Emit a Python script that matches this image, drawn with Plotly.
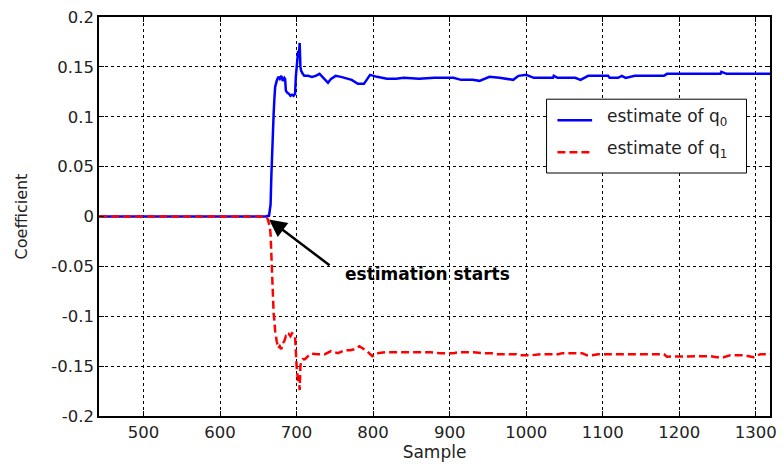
import plotly.graph_objects as go

# Coefficient estimates q0 and q1 versus sample index
q0_samples = [442, 660, 664, 666, 667, 668, 669, 670, 671, 672, 674, 676, 678, 680, 682, 684,
              685, 686, 688, 690, 692, 694, 696, 698, 699, 700, 701, 702, 703, 704, 705, 706,
              708, 710, 715, 720, 725, 730, 735, 741, 745, 751, 758, 766, 772, 780, 788, 796,
              805, 818, 830, 840, 860, 880, 905, 915, 930, 939, 952, 965, 983, 990, 1000, 1010,
              1020, 1035, 1036, 1041, 1055, 1064, 1071, 1081, 1095, 1107, 1109, 1120, 1125,
              1130, 1142, 1160, 1180, 1184, 1200, 1230, 1254, 1255, 1262, 1280, 1300, 1319]
q0_values = [0.0, 0.0, 0.001, 0.012, 0.040, 0.067, 0.080, 0.103, 0.118, 0.130, 0.136, 0.140,
             0.138, 0.141, 0.136, 0.139, 0.138, 0.126, 0.124, 0.123, 0.121, 0.122, 0.121, 0.123,
             0.140, 0.150, 0.158, 0.166, 0.160, 0.174, 0.150, 0.146, 0.143, 0.141, 0.141, 0.140,
             0.141, 0.143, 0.139, 0.134, 0.138, 0.141, 0.140, 0.138, 0.137, 0.133, 0.133, 0.142,
             0.140, 0.138, 0.138, 0.139, 0.138, 0.139, 0.139, 0.137, 0.137, 0.136, 0.140, 0.139,
             0.137, 0.141, 0.142, 0.139, 0.139, 0.139, 0.141, 0.139, 0.139, 0.139, 0.137, 0.141,
             0.141, 0.141, 0.139, 0.139, 0.141, 0.139, 0.141, 0.141, 0.141, 0.143, 0.143, 0.143,
             0.143, 0.145, 0.143, 0.143, 0.143, 0.143]

q1_samples = [442, 660, 662, 664, 665, 666, 667, 668, 669, 670, 671, 672, 674, 676, 678, 680,
              682, 684, 686, 688, 690, 692, 694, 696, 698, 699, 700, 701, 702, 703, 704, 705,
              706, 708, 711, 715, 719, 728, 737, 745, 754, 763, 770, 776, 782, 792, 799, 805,
              818, 840, 861, 875, 887, 905, 913, 931, 944, 957, 961, 987, 990, 1008, 1020, 1042,
              1047, 1073, 1079, 1086, 1094, 1151, 1180, 1184, 1193, 1197, 1241, 1249, 1258,
              1267, 1284, 1297, 1306, 1319]
q1_values = [0.0, 0.0, -0.002, -0.006, -0.010, -0.018, -0.040, -0.070, -0.085, -0.097, -0.105,
             -0.115, -0.125, -0.132, -0.130, -0.133, -0.127, -0.125, -0.120, -0.121, -0.118,
             -0.120, -0.117, -0.118, -0.120, -0.143, -0.150, -0.158, -0.166, -0.160, -0.174,
             -0.150, -0.145, -0.143, -0.143, -0.140, -0.1375, -0.138, -0.138, -0.135, -0.137,
             -0.134, -0.134, -0.133, -0.130, -0.135, -0.140, -0.137, -0.136, -0.136, -0.136,
             -0.136, -0.137, -0.137, -0.136, -0.136, -0.137, -0.137, -0.138, -0.138, -0.139,
             -0.139, -0.138, -0.138, -0.137, -0.137, -0.139, -0.139, -0.138, -0.138, -0.138,
             -0.1405, -0.1405, -0.140, -0.140, -0.141, -0.141, -0.139, -0.139, -0.141, -0.138,
             -0.138]

x_ticks = [500, 600, 700, 800, 900, 1000, 1100, 1200, 1300]
y_ticks = [-0.2, -0.15, -0.1, -0.05, 0, 0.05, 0.1, 0.15, 0.2]
y_tick_text = ["-0.2", "-0.15", "-0.1", "-0.05", "0", "0.05", "0.1", "0.15", "0.2"]

series_names = ["estimate of q<sub>0</sub>", "estimate of q<sub>1</sub>"]
series_colors = ["#0000ff", "#ff0000"]
series_dashes = ["solid", "8px,4px"]

FONT = "DejaVu Sans, sans-serif"
TEXT_COLOR = "#222222"

fig = go.Figure()
fig.add_trace(go.Scatter(x=q0_samples, y=q0_values, mode="lines", name=series_names[0],
                         line=dict(color=series_colors[0], width=2.5, dash=series_dashes[0])))
fig.add_trace(go.Scatter(x=q1_samples, y=q1_values, mode="lines", name=series_names[1],
                         line=dict(color=series_colors[1], width=2.5, dash=series_dashes[1])))

# arrow pointing at the start of estimation
fig.add_annotation(x=664, y=-0.003, ax=745, ay=-0.050, xref="x", yref="y",
                   axref="x", ayref="y", text="", showarrow=True,
                   arrowhead=2, arrowsize=1.4, arrowwidth=2.5, arrowcolor="black")
fig.add_annotation(x=761, y=-0.0575, xref="x", yref="y", text="<b>estimation starts</b>",
                   showarrow=False, xanchor="left", yanchor="middle",
                   font=dict(family=FONT, size=17, color="black"))

# boxed legend in the upper right of the axes (paper coordinates)
fig.add_shape(type="rect", xref="paper", yref="paper", x0=0.667, x1=0.965, y0=0.609, y1=0.794,
              line=dict(color="black", width=1), fillcolor="white", layer="above")
legend_rows_y = [0.7414, 0.6613]
for name, color, dash, ry in zip(series_names, series_colors, series_dashes, legend_rows_y):
    fig.add_shape(type="line", xref="paper", yref="paper", x0=0.6832, x1=0.7349, y0=ry, y1=ry,
                  line=dict(color=color, width=2.5, dash=dash), layer="above")
    fig.add_annotation(x=0.754, y=ry + 0.006, xref="paper", yref="paper", text=name,
                       showarrow=False, xanchor="left", yanchor="middle",
                       font=dict(family=FONT, size=17, color=TEXT_COLOR))

axis_common = dict(showline=True, linecolor="black", linewidth=1.5, mirror="ticks",
                   ticks="inside", ticklen=5, tickcolor="black", showgrid=True,
                   gridcolor="black", gridwidth=1, griddash="3px,3px", zeroline=False,
                   tickfont=dict(family=FONT, size=16.5, color=TEXT_COLOR))

fig.update_xaxes(range=[441.8, 1318.6], tickvals=x_ticks,
                 title=dict(text="Sample", font=dict(family=FONT, size=17, color=TEXT_COLOR),
                            standoff=5),
                 **axis_common)
fig.update_yaxes(range=[-0.2, 0.2], tickvals=y_ticks, ticktext=y_tick_text,
                 title=dict(text="Coefficient", font=dict(family=FONT, size=16, color=TEXT_COLOR),
                            standoff=20),
                 **axis_common)

fig.update_layout(
    width=784, height=471,
    margin=dict(l=99, r=7, t=17, b=55),
    paper_bgcolor="white", plot_bgcolor="white",
    showlegend=False,
)

fig.write_html("out.html")
